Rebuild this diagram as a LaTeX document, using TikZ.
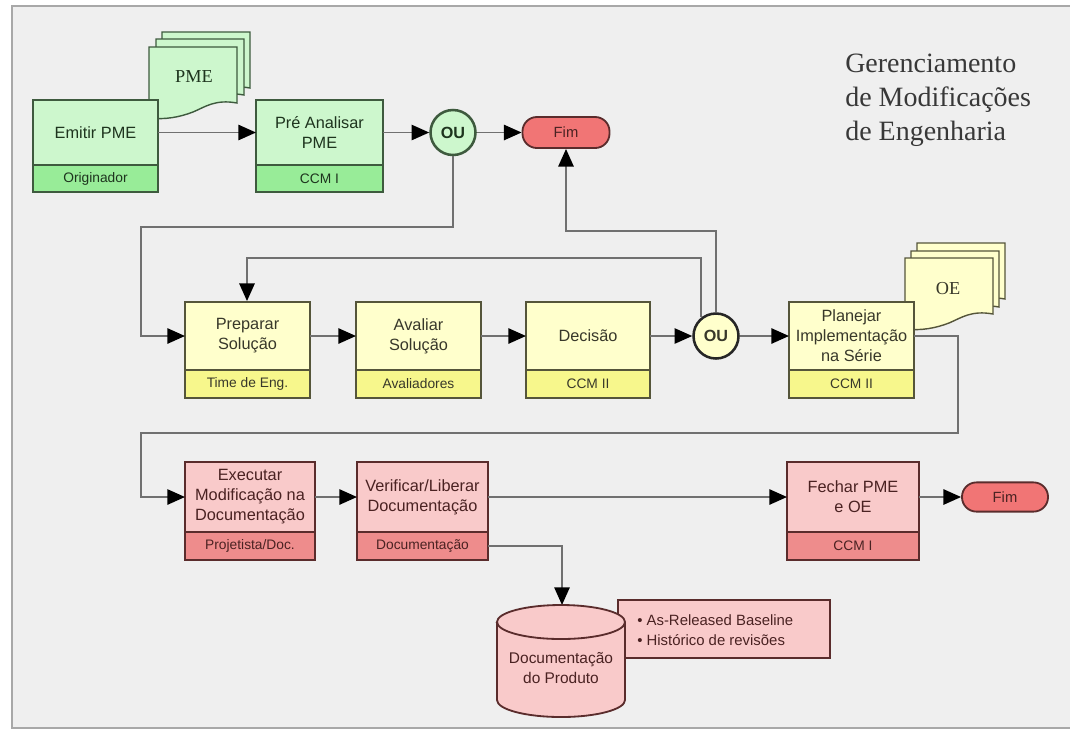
\documentclass[tikz,border=0pt]{standalone}
\usepackage{fontspec}
\setmainfont{Liberation Serif}
\setsansfont{Liberation Sans}
\usetikzlibrary{arrows.meta,fit}
\definecolor{bgc}{HTML}{EFEFEF}
\definecolor{framec}{HTML}{A8A8A8}
\definecolor{connc}{HTML}{707070}
\definecolor{greenmain}{HTML}{CDF7CD}
\definecolor{greenstrip}{HTML}{98EC98}
\definecolor{greenline}{HTML}{3E5A3E}
\definecolor{greentxt}{HTML}{1E341E}
\definecolor{yellowmain}{HTML}{FFFFCC}
\definecolor{yellowstrip}{HTML}{F7F78C}
\definecolor{yellowline}{HTML}{55553A}
\definecolor{yellowtxt}{HTML}{38382A}
\definecolor{redmain}{HTML}{F9CACA}
\definecolor{redstrip}{HTML}{EE8C8C}
\definecolor{redline}{HTML}{5A2C2C}
\definecolor{redtxt}{HTML}{4A2222}
\definecolor{fimfill}{HTML}{F17575}
\definecolor{titlec}{HTML}{383838}
\tikzset{
  boxline/.style={line width=1.3pt},
  maintext/.style={font=\sffamily\fontsize{11.6}{14.2}\selectfont, align=center, inner sep=0pt},
  roletext/.style={font=\sffamily\fontsize{9.8}{11}\selectfont, inner sep=0pt},
  conn/.style={draw=connc, line width=1.4pt, -{Triangle[length=0.44cm,width=0.38cm,color=black]}},
  oubox/.style={circle, minimum size=1.125cm, inner sep=0pt, line width=1.8pt, font=\sffamily\bfseries\fontsize{11.5}{13}\selectfont},
  fimbox/.style={rectangle, rounded corners=0.36cm, draw=redline, fill=fimfill, line width=1.3pt, inner sep=0pt, text=redtxt, font=\sffamily\fontsize{10.5}{12}\selectfont},
  docpage/.style={line width=1pt},
}
\newcommand\procbox[9]{%
  \fill[#9main] (#2,#3) rectangle (#4,#6);
  \fill[#9strip] (#2,#6) rectangle (#4,#5);
  \draw[#9line, boxline] (#2,#6) -- (#4,#6);
  \coordinate (#1nw) at (#2,#3);
  \coordinate (#1se) at (#4,#5);
  \node[fit=(#1nw)(#1se), inner sep=0pt, draw=#9line, boxline] (#1) {};
  \coordinate (#1w) at (#2,{(#3+#6)/2});
  \coordinate (#1e) at (#4,{(#3+#6)/2});
  \coordinate (#1s) at (#4,{(#6+#5)/2});
  \node[maintext, text=#9txt] (#1t) at ({(#2+#4)/2},{(#3+#6)/2}) {#7};
  \node[roletext, text=#9txt] (#1r) at ({(#2+#4)/2},{(#6+#5)/2}) {#8};
}
\newcommand\pagepath[4]{%
  \filldraw[docpage, fill=#3, draw=#4] (#1,#2) -- (#1+88,#2) -- (#1+88,#2+56)
    .. controls (#1+66,#2+52) and (#1+56,#2+60) .. (#1+44,#2+65)
    .. controls (#1+31,#2+70) and (#1+16,#2+73) .. (#1,#2+71) -- cycle;
}
\begin{document}
\begin{tikzpicture}[x=0.025cm, y=-0.025cm]
\useasboundingbox (0,0) rectangle (1070,733);
\fill[white] (0,0) rectangle (1070,733);
\fill[bgc] (12,6) rectangle (1070,728);
\draw[framec, line width=1.2pt] (1070,6) -- (12,6) -- (12,728) -- (1070,728);

% title
\node[anchor=north west, inner sep=0pt, align=left, text=titlec,
      font=\fontsize{19.9}{24.2}\selectfont] (title) at (845,54)
  {Gerenciamento\\de Modificações\\de Engenharia};

% documents
\pagepath{162}{32}{greenmain}{greenline}
\pagepath{156}{39}{greenmain}{greenline}
\pagepath{149}{47}{greenmain}{greenline}
\node[font=\fontsize{13}{15}\selectfont, text=greentxt, inner sep=0pt] (pme) at (194,77) {PME};
\pagepath{917}{243}{yellowmain}{yellowline}
\pagepath{911}{251}{yellowmain}{yellowline}
\pagepath{905}{258}{yellowmain}{yellowline}
\node[font=\fontsize{13}{15}\selectfont, text=yellowtxt, inner sep=0pt] (oe) at (948,289) {OE};

% process boxes
\procbox{emit}{33}{100}{158}{192}{165}{Emitir PME}{Originador}{green}
\procbox{pre}{256}{100}{383}{192}{165}{Pré Analisar\\PME}{CCM I}{green}
\procbox{prep}{185}{302}{310}{398}{370}{Preparar\\Solução}{Time de Eng.}{yellow}
\procbox{aval}{356}{302}{481}{398}{370}{Avaliar\\Solução}{Avaliadores}{yellow}
\procbox{dec}{526}{302}{650}{398}{370}{Decisão}{CCM II}{yellow}
\procbox{plan}{789}{302}{914}{398}{370}{Planejar\\Implementação\\na Série}{CCM II}{yellow}
\procbox{exec}{185}{462}{315}{560}{532}{Executar\\Modificação na\\Documentação}{Projetista/Doc.}{red}
\procbox{verif}{357}{462}{488}{560}{532}{Verificar/Liberar\\Documentação}{Documentação}{red}
\procbox{fech}{787}{462}{919}{560}{532}{Fechar PME\\e OE}{CCM I}{red}

% decision / end nodes
\node[oubox, draw=greenline, fill=greenmain, text=greentxt] (ou1) at (453,132.5) {OU};
\node[oubox, draw=black!85, fill=yellowmain, text=yellowtxt] (ou2) at (716,336) {OU};
\node[fimbox, minimum width=2.175cm, minimum height=0.775cm] (fim1) at (566,132.5) {Fim};
\node[fimbox, minimum width=2.15cm, minimum height=0.73cm] (fim2) at (1005,497) {Fim};

% waypoints
\coordinate (l1) at (141,227);
\coordinate (l2) at (247,258);
\coordinate (l3) at (566,231);
\coordinate (l4) at (958,433);
\coordinate (l5) at (141,433);
\coordinate (dbtop) at (562,605);

% connectors
\draw[conn] (emite) -- (prew);
\draw[conn] (pree) -- (ou1);
\draw[conn] (ou1) -- (fim1);
\draw[conn] (ou1.south) -- (ou1.south |- l1) -- (l1) |- (prepw);
\draw[conn] (prepe) -- (avalw);
\draw[conn] (avale) -- (decw);
\draw[conn] (dece) -- (ou2);
\draw[conn] (ou2) -- (planw);
\draw[conn] (ou2.128) |- (l2) -- (l2 |- prep.north);
\draw[conn] (ou2.north) |- (l3) -- (l3 |- fim1.south);
\draw[conn] (plane) -| (l4) -- (l5) |- (execw);
\draw[conn] (exece) -- (verifw);
\draw[conn] (verife) -- (fechw);
\draw[conn] (feche) -- (fim2);
\draw[conn] (verifs) -| (dbtop);

% notes box
\node[draw=redline, fill=redmain, boxline, inner sep=0pt,
      minimum width=5.3cm, minimum height=1.45cm] (notes) at (724,629) {};
\node[anchor=west, align=left, inner sep=0pt, text=redtxt,
      font=\sffamily\fontsize{10.6}{14.2}\selectfont] (notest) at (637,630)
  {• As-Released Baseline\\• Histórico de revisões};

% cylinder
\filldraw[fill=redmain, draw=redline, boxline]
  (497,622) -- (497,700) arc[start angle=180, end angle=360, x radius=1.6cm, y radius=0.425cm]
  -- (625,622) arc[start angle=0, end angle=180, x radius=1.6cm, y radius=0.425cm] -- cycle;
\draw[redline, boxline] (497,622) arc[start angle=180, end angle=360, x radius=1.6cm, y radius=0.425cm];
\node[maintext, text=redtxt, font=\sffamily\fontsize{11}{14.2}\selectfont] (db) at (561,668) {Documentação\\do Produto};
\end{tikzpicture}
\end{document}
